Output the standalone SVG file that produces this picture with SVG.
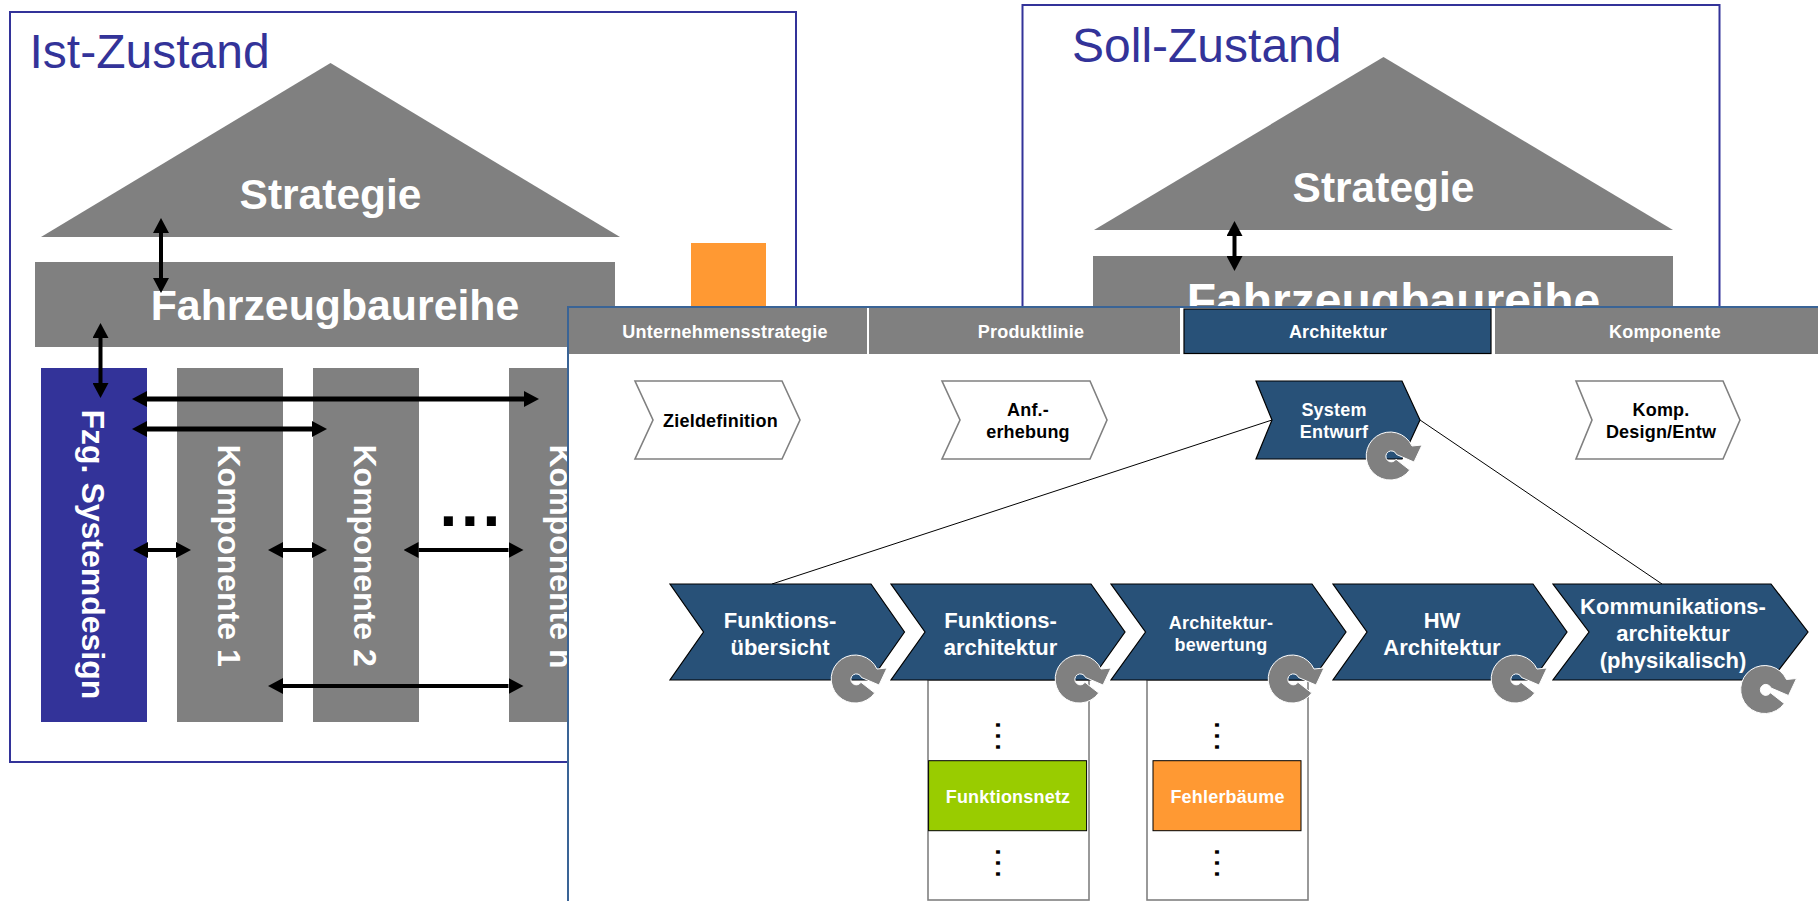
<svg xmlns="http://www.w3.org/2000/svg" xmlns:xlink="http://www.w3.org/1999/xlink" width="1818" height="901" viewBox="0 0 1818 901">
<style>
text{font-family:"Liberation Sans",Arial,sans-serif;font-weight:bold;text-anchor:middle}
.frame{fill:#fff;stroke:#333399;stroke-width:2}
.g{fill:#808080}
.title{font-weight:normal;font-size:48px;fill:#333399;text-anchor:start}
.w42{fill:#fff;font-size:42.500px}
.wide{fill:#fff;font-size:42.800px}
.col{fill:#fff;font-size:32px;text-anchor:start}
.arr{stroke:#000;stroke-width:4;fill:none;marker-start:url(#head);marker-end:url(#head)}
.tab{fill:#fff;font-size:18px;letter-spacing:.2px}
.dark{fill:#285178;stroke:#000;stroke-width:1.2}
.light{fill:#fff;stroke:#808080;stroke-width:1.6}
.k18{fill:#000;font-size:18px;letter-spacing:.2px}
.w18{fill:#fff;font-size:18px;letter-spacing:.2px}
.w22{fill:#fff;font-size:22px}
.link{stroke:#000;stroke-width:1;fill:none}
.box{fill:#fff;stroke:#808080;stroke-width:1.6}
.vdots{font-weight:normal;font-size:36px;letter-spacing:1px;fill:#000;text-anchor:start}
</style>
<defs>
<marker id="head" markerUnits="userSpaceOnUse" markerWidth="15" markerHeight="16" viewBox="0 0 15 16" refX="0" refY="8" orient="auto-start-reverse"><path d="M0 0L15 8L0 16Z" fill="#000"/></marker>
<path id="cycle" d="M20.700 14A24 24 0 1 1 23 -10L33 -11L25 6L7.500 -1.500A5.500 5.500 0 1 0 7 3.300Z" fill="#808080" stroke="#fff" stroke-width="1"/>
</defs>

<g id="ist-zustand">
<rect class="frame" x="10" y="12" width="786" height="750"/>
<text class="title" x="29.500" y="68">Ist-Zustand</text>
</g>
<g id="ist-strategie"><path class="g" d="M41 237L330.500 63L620 237Z"/><text class="w42" x="330.500" y="209">Strategie</text></g>
<g id="ist-baureihe"><rect class="g" x="35" y="262" width="580" height="85"/><text class="wide" x="335" y="320">Fahrzeugbaureihe</text></g>
<g id="ist-orange"><rect x="691" y="243" width="75" height="80" fill="#FF9933"/></g>
<g id="ist-system"><rect x="41" y="368" width="106" height="354" fill="#333399"/><text class="col" transform="translate(82 409.500) rotate(90)">Fzg. Systemdesign</text></g>
<g id="ist-komp1"><rect class="g" x="177" y="368" width="106" height="354"/><text class="col" transform="translate(217.500 444.500) rotate(90)">Komponente 1</text></g>
<g id="ist-komp2"><rect class="g" x="313" y="368" width="106" height="354"/><text class="col" transform="translate(353.500 444.500) rotate(90)">Komponente 2</text></g>
<g id="ist-kompn"><rect class="g" x="509" y="368" width="106" height="354"/><text class="col" transform="translate(549.500 444.500) rotate(90)">Komponente n</text></g>
<g id="ist-dots"><text x="439.500" y="526" style="font-size:64px;letter-spacing:3.700px;text-anchor:start;fill:#000">...</text></g>

<g id="ist-connectors">
<line class="arr" x1="161" y1="233" x2="161" y2="278"/>
<line class="arr" x1="100.500" y1="338" x2="100.500" y2="383"/>
<line class="arr" style="stroke-width:5" x1="147" y1="399" x2="524" y2="399"/>
<line class="arr" style="stroke-width:5" x1="147" y1="429" x2="312" y2="429"/>
<line class="arr" x1="148" y1="550" x2="176" y2="550"/>
<line class="arr" x1="283" y1="550" x2="312" y2="550"/>
<line class="arr" x1="418.500" y1="550" x2="508.500" y2="550"/>
<line class="arr" x1="283" y1="686" x2="508.500" y2="686"/>
</g>

<g id="soll-zustand">
<rect class="frame" x="1022.500" y="5" width="697" height="330"/>
<text class="title" x="1072" y="61.500">Soll-Zustand</text>
</g>
<g id="soll-strategie"><path class="g" d="M1094 230L1383.500 57L1673 230Z"/><text class="w42" x="1383.500" y="202">Strategie</text></g>
<g id="soll-baureihe"><rect class="g" x="1093" y="256" width="580" height="70"/><text class="w42" style="font-size:48px" x="1393.500" y="317">Fahrzeugbaureihe</text></g>
<g id="soll-connectors"><line class="arr" x1="1234.500" y1="236" x2="1234.500" y2="256"/></g>

<g id="panel"><rect x="568" y="307" width="1260" height="610" fill="#fff" stroke="#3A6496" stroke-width="2"/></g>
<g id="tab-unternehmen"><rect class="g" x="569" y="308" width="298" height="46"/><text class="tab" x="725" y="338">Unternehmensstrategie</text></g>
<g id="tab-produktlinie"><rect class="g" x="869" y="308" width="311" height="46"/><text class="tab" x="1031" y="338">Produktlinie</text></g>
<g id="tab-architektur"><rect class="dark" x="1184" y="309" width="307" height="44.500"/><text class="tab" x="1338" y="338">Architektur</text></g>
<g id="tab-komponente"><rect class="g" x="1495" y="308" width="325" height="46"/><text class="tab" x="1665" y="338">Komponente</text></g>

<g id="detail-connectors">
<line class="link" x1="1272" y1="420" x2="772" y2="584"/>
<line class="link" x1="1420" y1="420" x2="1662" y2="584"/>
</g>

<g id="zieldefinition"><path class="light" d="M635 381H782L800 420L782 459H635L653 420Z"/><text class="k18" x="720.500" y="427">Zieldefinition</text></g>
<g id="anf-erhebung"><path class="light" d="M942 381H1090L1107 420L1090 459H942L960 420Z"/><text class="k18" x="1028" y="416">Anf.-</text><text class="k18" x="1028" y="438">erhebung</text></g>
<g id="system-entwurf"><path class="dark" d="M1256 381H1402L1420 420L1402 459H1256L1272 420Z"/><text class="w18" x="1334" y="416">System</text><text class="w18" x="1334" y="438">Entwurf</text><use href="#cycle" x="1389" y="456"/></g>
<g id="komp-design"><path class="light" d="M1576 381H1723L1740 420L1723 459H1576L1592 420Z"/><text class="k18" x="1661" y="416">Komp.</text><text class="k18" x="1661" y="438">Design/Entw</text></g>

<g id="box-funktionsnetz">
<rect class="box" x="928" y="680" width="161" height="220"/>
<text class="vdots" transform="translate(995.500 720) rotate(90)">...</text>
<rect x="928.600" y="760.700" width="158" height="70" fill="#99CC00" stroke="#000" stroke-width="1"/>
<text class="w18" x="1008" y="802.700">Funktionsnetz</text>
<text class="vdots" transform="translate(995.500 847) rotate(90)">...</text>
</g>
<g id="box-fehlerbaeume">
<rect class="box" x="1147" y="680" width="161" height="220"/>
<text class="vdots" transform="translate(1214.500 720) rotate(90)">...</text>
<rect x="1153" y="760.700" width="148" height="70" fill="#FF9933" stroke="#000" stroke-width="1"/>
<text class="w18" x="1227.500" y="802.700">Fehlerbäume</text>
<text class="vdots" transform="translate(1214.500 847) rotate(90)">...</text>
</g>

<g id="funktionsuebersicht"><path class="dark" d="M670 584H871L904.500 632L871 680H670L703.500 632Z"/><text class="w22" x="780" y="628">Funktions-</text><text class="w22" x="780" y="655">übersicht</text><use href="#cycle" x="854" y="679"/></g>
<g id="funktionsarchitektur"><path class="dark" d="M891 584H1091L1125 632L1091 680H891L925 632Z"/><text class="w22" x="1000.500" y="628">Funktions-</text><text class="w22" x="1000.500" y="655">architektur</text><use href="#cycle" x="1078" y="679"/></g>
<g id="architekturbewertung"><path class="dark" d="M1111 584H1312L1346 632L1312 680H1111L1145.500 632Z"/><text class="w18" x="1221" y="629">Architektur-</text><text class="w18" x="1221" y="651">bewertung</text><use href="#cycle" x="1291" y="679"/></g>
<g id="hw-architektur"><path class="dark" d="M1333 584H1533L1567 632L1533 680H1333L1367 632Z"/><text class="w22" x="1442" y="628">HW</text><text class="w22" x="1442" y="655">Architektur</text><use href="#cycle" x="1514" y="679"/></g>
<g id="kommunikationsarchitektur"><path class="dark" d="M1553 584H1771L1808 632L1771 680H1553L1589 632Z"/><text class="w22" x="1673" y="614">Kommunikations-</text><text class="w22" x="1673" y="641">architektur</text><text class="w22" x="1673" y="668">(physikalisch)</text><use href="#cycle" x="1763.500" y="689.500"/></g>
</svg>
